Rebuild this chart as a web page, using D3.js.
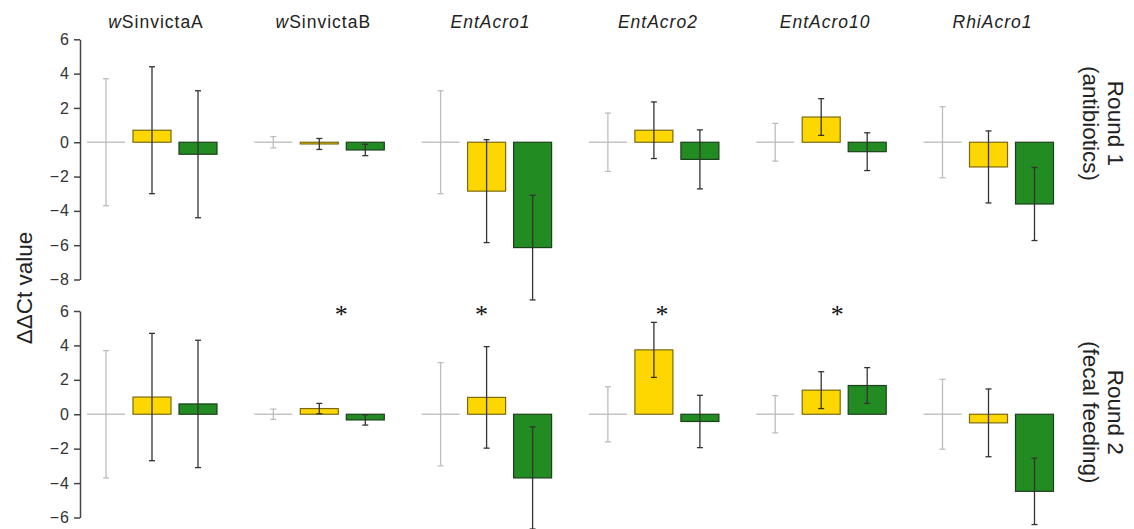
<!DOCTYPE html>
<html>
<head>
<meta charset="utf-8">
<script src="https://d3js.org/d3.v7.min.js"></script>
<style>
  body { margin: 0; background: #fff; }
  svg text { font-family: "Liberation Sans", Arial, sans-serif; fill: #222; }
  .tick text { letter-spacing: 1px; fill: #333; }
  .tick line, .domain { stroke: #444; stroke-width: 1.5; }
</style>
</head>
<body>
<div id="chart"></div>
<script>
// genes (panels columns) and the two rounds
var genes = ["wSinvictaA", "wSinvictaB", "EntAcro1", "EntAcro2", "EntAcro10", "RhiAcro1"];
var rounds = ["Round 1", "Round 2"];
var roundNotes = ["(antibiotics)", "(fecal feeding)"];

// Round 1 (antibiotics): mean ddCt and error
var r1Control    = [0, 0, 0, 0, 0, 0];
var r1ControlErr = [3.7, 0.33, 3.0, 1.7, 1.1, 2.07];
var r1Yellow     = [0.7, -0.1, -2.85, 0.7, 1.47, -1.44];
var r1YellowErr  = [3.7, 0.32, 3.0, 1.65, 1.07, 2.1];
var r1Green      = [-0.7, -0.45, -6.14, -1.0, -0.55, -3.6];
var r1GreenErr   = [3.7, 0.33, 3.05, 1.72, 1.1, 2.13];

// Round 2 (fecal feeding)
var r2Control    = [0, 0, 0, 0, 0, 0];
var r2ControlErr = [3.7, 0.3, 3.0, 1.6, 1.08, 2.03];
var r2Yellow     = [1.0, 0.33, 0.98, 3.74, 1.4, -0.5];
var r2YellowErr  = [3.7, 0.3, 2.95, 1.6, 1.07, 1.97];
var r2Green      = [0.6, -0.33, -3.7, -0.42, 1.67, -4.48];
var r2GreenErr   = [3.7, 0.3, 2.97, 1.52, 1.04, 1.93];

// significance stars (between the panels)
var starred = ["wSinvictaB", "EntAcro1", "EntAcro2", "EntAcro10"];

var r1Ticks = [6, 4, 2, 0, -2, -4, -6, -8];
var r2Ticks = [6, 4, 2, 0, -2, -4, -6];

var largura = 1134, altura = 529;
var svg = d3.select("#chart").append("svg")
  .attr("width", largura).attr("height", altura);

var x = d3.scalePoint().domain(genes).range([152, 988.5]);
var larguraBarra = 38, passo = 46;

var paineis = [
  {ctrl: r1Control, ctrlErr: r1ControlErr, yel: r1Yellow, yelErr: r1YellowErr,
   grn: r1Green, grnErr: r1GreenErr, ticks: r1Ticks,
   y: d3.scaleLinear().domain([6, -8]).range([39.3, 279.5])},
  {ctrl: r2Control, ctrlErr: r2ControlErr, yel: r2Yellow, yelErr: r2YellowErr,
   grn: r2Green, grnErr: r2GreenErr, ticks: r2Ticks,
   y: d3.scaleLinear().domain([6, -6]).range([311, 517.5])}
];

paineis.forEach(function(p, k) {
  var y = p.y;
  var g = svg.append("g");

  g.append("g")
    .attr("transform", "translate(80,0)")
    .call(d3.axisLeft(y).tickValues(p.ticks).tickSize(6).tickSizeOuter(0).tickPadding(4))
    .call(a => a.selectAll(".tick text").style("font-size", "16px"));

  var dados = genes.map(function(gene, i) {
    return {gene: gene, c: p.ctrl[i], ce: p.ctrlErr[i], yv: p.yel[i], ye: p.yelErr[i],
            gv: p.grn[i], ge: p.grnErr[i]};
  });

  // control: just a gray line at the mean
  g.selectAll("line.ctrl").data(dados).enter().append("line")
    .attr("x1", d => x(d.gene) - passo - larguraBarra / 2)
    .attr("x2", d => x(d.gene) - passo + larguraBarra / 2)
    .attr("y1", d => y(d.c)).attr("y2", d => y(d.c))
    .attr("stroke", "#c4c4c4").attr("stroke-width", 1.6);

  function barras(chave, desloc, cor, borda) {
    g.selectAll("rect." + chave).data(dados).enter().append("rect")
      .attr("x", d => x(d.gene) + desloc - larguraBarra / 2)
      .attr("width", larguraBarra)
      .attr("y", d => y(Math.max(0, d[chave])))
      .attr("height", d => Math.abs(y(d[chave]) - y(0)))
      .attr("fill", cor).attr("stroke", borda).attr("stroke-width", 1.2);
  }
  barras("yv", 0, "#ffd700", "#7a6a10");
  barras("gv", passo, "#228b22", "#1d3f1d");

  function erros(chave, chaveErr, desloc, cor) {
    var e = g.selectAll("g.err-" + chave).data(dados).enter().append("g")
      .attr("stroke", cor).attr("stroke-width", 1.3);
    e.append("line")
      .attr("x1", d => x(d.gene) + desloc).attr("x2", d => x(d.gene) + desloc)
      .attr("y1", d => y(d[chave] + d[chaveErr])).attr("y2", d => y(d[chave] - d[chaveErr]));
    [1, -1].forEach(function(s) {
      e.append("line")
        .attr("x1", d => x(d.gene) + desloc - 3).attr("x2", d => x(d.gene) + desloc + 3)
        .attr("y1", d => y(d[chave] + s * d[chaveErr])).attr("y2", d => y(d[chave] + s * d[chaveErr]));
    });
  }
  erros("c", "ce", -passo, "#bdbdbd");
  erros("yv", "ye", 0, "#333");
  erros("gv", "ge", passo, "#333");

  // round label on the right
  var cy = (y(6) + y(k === 0 ? -8 : -6)) / 2 + (k === 0 ? -36 : -2);
  var lab = svg.append("g").attr("transform", "translate(1108," + cy + ") rotate(90)");
  lab.append("text").attr("text-anchor", "middle").attr("y", 0)
    .style("font-size", "22.5px").text(rounds[k]);
  lab.append("text").attr("text-anchor", "middle").attr("y", 25)
    .style("font-size", "22.5px").text(roundNotes[k]);
});

// gene titles
var titulos = svg.selectAll("text.titulo").data(genes).enter().append("text")
  .attr("x", d => x(d) + 4)
  .attr("y", 28)
  .attr("text-anchor", "middle")
  .style("font-size", "17.5px").style("letter-spacing", "1px");
titulos.each(function(d) {
  var t = d3.select(this);
  if (d.charAt(0) === "w") {
    t.append("tspan").style("font-style", "italic").text("w");
    t.append("tspan").text(d.slice(1));
  } else {
    t.append("tspan").style("font-style", "italic").text(d);
  }
});

// stars
var desvioEstrela = {wSinvictaB: 22, EntAcro1: -5, EntAcro2: 8, EntAcro10: 16};
svg.selectAll("text.estrela").data(starred).enter().append("text")
  .attr("x", d => x(d) + desvioEstrela[d])
  .attr("y", 323)
  .attr("text-anchor", "middle")
  .style("font-family", "'Liberation Serif', 'Times New Roman', serif")
  .style("font-size", "26px").style("fill", "#111")
  .text("*");

// y axis label
svg.append("text")
  .attr("transform", "translate(32,288) rotate(-90)")
  .attr("text-anchor", "middle")
  .style("font-size", "22.5px")
  .text("ΔΔCt value");
</script>
</body>
</html>
